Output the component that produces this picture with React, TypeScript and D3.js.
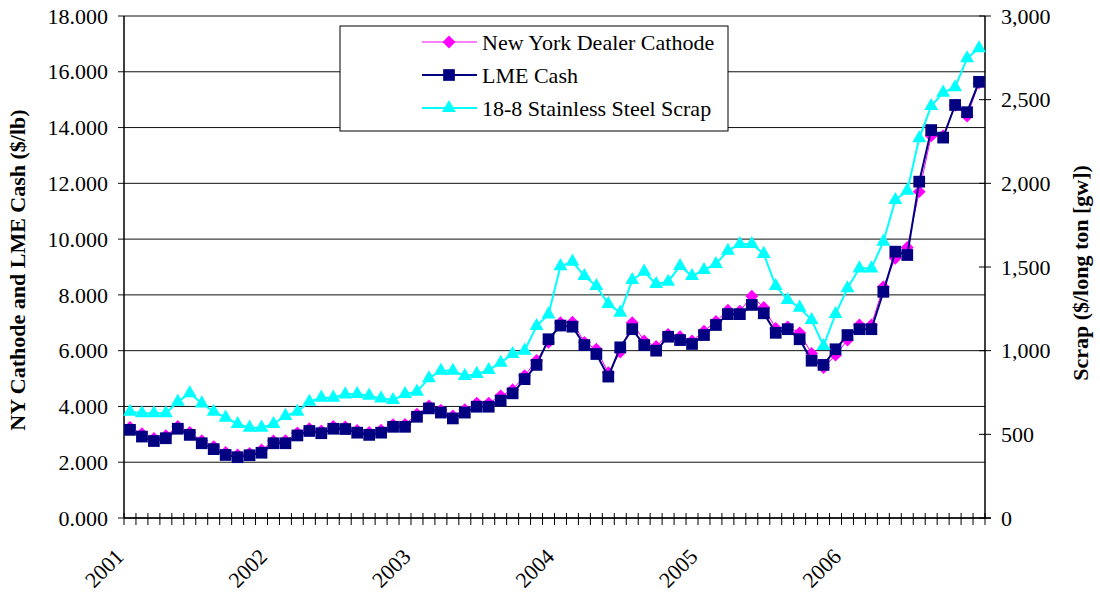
import React from 'react';
import * as d3 from 'd3';

// monthly values, Jan 2001 .. Dec 2006
const years = ['2001', '2002', '2003', '2004', '2005', '2006'];

const nyCathode = [
  3.25, 3.02, 2.85, 2.95, 3.28, 3.07, 2.77, 2.56, 2.35, 2.26, 2.32, 2.44,
  2.76, 2.77, 3.05, 3.2, 3.12, 3.28, 3.27, 3.14, 3.07, 3.15, 3.35, 3.36,
  3.72, 4.02, 3.87, 3.66, 3.88, 4.12, 4.12, 4.38, 4.6, 5.1, 5.65, 6.3,
  7.0, 7.02, 6.3, 6.05, 5.21, 5.95, 7.0, 6.35, 6.15, 6.58, 6.5, 6.35,
  6.7, 7.05, 7.45, 7.42, 7.95, 7.55, 6.8, 6.85, 6.64, 5.9, 5.39, 5.84,
  6.38, 6.92, 6.92, 8.29, 9.31, 9.7, 11.7, 13.7, 13.7, 14.8, 14.41, 15.6,
];

const lmeCash = [
  3.16, 2.92, 2.76, 2.86, 3.2, 2.98, 2.68, 2.47, 2.26, 2.18, 2.25, 2.34,
  2.68, 2.68, 2.96, 3.12, 3.04, 3.2, 3.19, 3.06, 2.98, 3.06, 3.27, 3.27,
  3.63, 3.93, 3.78, 3.57, 3.78, 3.99, 3.99, 4.21, 4.47, 4.98, 5.49, 6.41,
  6.9, 6.86, 6.2, 5.88, 5.07, 6.12, 6.77, 6.2, 6.0, 6.5, 6.38, 6.24,
  6.56, 6.92, 7.31, 7.31, 7.64, 7.34, 6.64, 6.77, 6.41, 5.64, 5.49, 6.05,
  6.56, 6.77, 6.77, 8.11, 9.55, 9.43, 12.06, 13.91, 13.64, 14.81, 14.55, 15.64,
];

const scrap = [
  635, 626, 626, 626, 695, 745, 685, 635, 600, 562, 540, 540,
  562, 610, 635, 695, 719, 719, 739, 741, 731, 715, 705, 741,
  755, 835, 880, 880, 849, 861, 884, 928, 980, 1000, 1147, 1217,
  1505, 1532, 1446, 1386, 1279, 1227, 1422, 1472, 1398, 1412, 1506, 1446,
  1482, 1518, 1597, 1637, 1637, 1578, 1386, 1303, 1257, 1183, 1028, 1219,
  1373, 1492, 1492, 1651, 1900, 1956, 2269, 2462, 2542, 2574, 2747, 2807,
];

const leftTicks = [0, 2, 4, 6, 8, 10, 12, 14, 16, 18];
const rightTicks = [0, 500, 1000, 1500, 2000, 2500, 3000];
const seriesNames = ['New York Dealer Cathode', 'LME Cash', '18-8 Stainless Steel Scrap'];

const FONT = '"Liberation Serif", "Times New Roman", serif';

const diamond = d3.symbol().type(d3.symbolDiamond2).size(105)();
const square = d3.symbol().type(d3.symbolSquare2).size(175)();
const triangle = d3.symbol().type(d3.symbolTriangle2).size(140)();

const App: React.FC = () => {
  const width = 1100;
  const height = 594;
  const left = 124, right = 985, top = 16, bottom = 518;

  const months = d3.range(nyCathode.length);
  const x = d3.scaleBand<number>().domain(months).range([left, right]);
  const cx = (i: number) => (x(i) || 0) + x.bandwidth() / 2;
  const yL = d3.scaleLinear().domain([0, 18]).range([bottom, top]);
  const yR = d3.scaleLinear().domain([0, 3000]).range([bottom, top]);

  const lineL = d3.line<number>().x((_, i) => cx(i)).y(d => yL(d));
  const lineR = d3.line<number>().x((_, i) => cx(i)).y(d => yR(d));

  const fmtL = d3.format('.3f');
  const fmtR = d3.format(',');

  const boundaries = d3.range(months.length + 1).map(i => left + i * x.step());

  const series = [
    { name: seriesNames[0], data: nyCathode, color: '#FF00FF', width: 1, path: diamond, line: lineL, y: yL },
    { name: seriesNames[1], data: lmeCash, color: '#000080', width: 2, path: square, line: lineL, y: yL },
    { name: seriesNames[2], data: scrap, color: '#00FFFF', width: 2, path: triangle, line: lineR, y: yR },
  ];

  return (
    <svg width={width} height={height} style={{ position: 'absolute', left: 0, top: 0, background: '#fff' }}
      fontFamily={FONT}>
      {/* gridlines + left ticks */}
      {leftTicks.map(t => (
        <g key={t}>
          <line x1={left - 6} x2={right} y1={yL(t)} y2={yL(t)} stroke="#111" strokeWidth={1} />
          <text x={108} y={yL(t)} dy="0.35em" textAnchor="end" fontSize={22}>{fmtL(t)}</text>
        </g>
      ))}
      <line x1={left} x2={left} y1={top} y2={bottom} stroke="#000" strokeWidth={1.5} />
      <line x1={right} x2={right} y1={top} y2={bottom} stroke="#000" strokeWidth={1.5} />
      {rightTicks.map(t => (
        <g key={t}>
          <line x1={right - 6} x2={right + 6} y1={yR(t)} y2={yR(t)} stroke="#000" strokeWidth={1} />
          <text x={1001} y={yR(t)} dy="0.35em" textAnchor="start" fontSize={22}>{fmtR(t)}</text>
        </g>
      ))}
      {/* category axis */}
      <line x1={left} x2={right + 6} y1={bottom} y2={bottom} stroke="#000" strokeWidth={1.5} />
      {boundaries.map((b, i) => (
        <line key={i} x1={b} x2={b} y1={bottom - 5} y2={bottom + 7} stroke="#000" strokeWidth={1} />
      ))}
      {years.map((yr, k) => {
        const b = boundaries[k * 12];
        return (
          <text key={yr} transform={`translate(${b + 1},558) rotate(-45)`} textAnchor="end" fontSize={22}>{yr}</text>
        );
      })}

      {/* series */}
      {series.map(s => (
        <g key={s.name}>
          <path d={s.line(s.data) || ''} fill="none" stroke={s.color} strokeWidth={s.width} />
          {s.data.map((v, i) => (
            <path key={i} d={s.path || ''} transform={`translate(${cx(i)},${s.y(v)})`} fill={s.color} />
          ))}
        </g>
      ))}

      {/* axis titles */}
      <text transform="translate(25,270) rotate(-90)" textAnchor="middle" fontSize={22} fontWeight="bold">
        NY Cathode and LME Cash ($/lb)
      </text>
      <text transform="translate(1088,273) rotate(-90)" textAnchor="middle" fontSize={22} fontWeight="bold">
        Scrap ($/long ton [gw])
      </text>

      {/* legend */}
      <rect x={340} y={26} width={388} height={105} fill="#fff" stroke="#000" strokeWidth={1} />
      {series.map((s, k) => {
        const ly = 42 + k * 33;
        return (
          <g key={s.name}>
            <line x1={422} x2={477} y1={ly} y2={ly} stroke={s.color} strokeWidth={s.width} />
            <path d={s.path || ''} transform={`translate(449,${ly})`} fill={s.color} />
            <text x={482} y={ly} dy="0.35em" fontSize={22}>{s.name}</text>
          </g>
        );
      })}
    </svg>
  );
};

export default App;
